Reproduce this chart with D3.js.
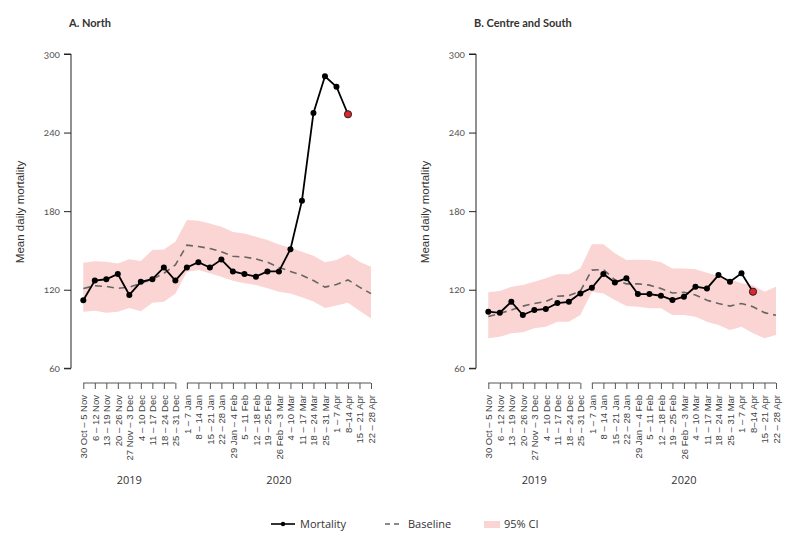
<!DOCTYPE html>
<html>
<head>
<meta charset="utf-8">
<script src="https://cdn.jsdelivr.net/npm/d3@7"></script>
<style>
  body { margin: 0; background: #fff; }
  svg { display: block; font-family: "Open Sans", "DejaVu Sans", sans-serif; }
  .panel-title { font-weight: 700; font-size: 11px; fill: #333; font-family: Lato, "Open Sans", sans-serif; }
  .y-axis text { font-size: 10px; fill: #555; font-family: Lato, "Open Sans", sans-serif; font-variant-numeric: oldstyle-nums; }
  .x-axis text { font-size: 9.5px; fill: #444; }
  .axis-title { font-size: 11.5px; fill: #333; font-family: "Liberation Sans", Arial, sans-serif; }
  .year { font-size: 11px; fill: #333; }
  .legend text { font-size: 11px; fill: #333; }
</style>
</head>
<body>
<div class="chart"></div>
<script>
// week labels (x categories)
var weeks2019 = [
  "30 Oct \u2013 5 Nov", "6 \u2013 12 Nov", "13 \u2013 19 Nov", "20 \u2013 26 Nov",
  "27 Nov \u2013 3 Dec", "4 \u2013 10 Dec", "11 \u2013 17 Dec", "18 \u2013 24 Dec",
  "25 \u2013 31 Dec"
];
var weeks2020 = [
  "1 \u2013 7 Jan", "8 \u2013 14 Jan", "15 \u2013 21 Jan", "22 \u2013 28 Jan",
  "29 Jan \u2013 4 Feb", "5 \u2013 11 Feb", "12 \u2013 18 Feb", "19 \u2013 25 Feb",
  "26 Feb \u2013 3 Mar", "4 \u2013 10 Mar", "11 \u2013 17 Mar", "18 \u2013 24 Mar",
  "25 \u2013 31 Mar", "1 \u2013 7 Apr", "8\u201314 Apr", "15 \u2013 21 Apr",
  "22 \u2013 28 Apr"
];
var weeks = weeks2019.concat(weeks2020);
var yTicks = [60, 120, 180, 240, 300];

// A. North
var northMortality = [112, 127, 128, 132, 116, 126, 128, 137, 127, 137, 141, 137, 143,
  134, 132, 130, 134, 134, 151, 188, 255, 283, 275, 254];
var northBaseline = [121, 123, 122.5, 121, 122, 125, 128, 132.5, 139, 154, 153, 151.5, 149,
  145.5, 145, 143.5, 141, 137, 134, 131, 127, 122, 124, 127.5, 122, 117];
var northUpper = [140.6, 141.7, 141.4, 140.1, 143.2, 141.9, 150.3, 150.8, 156.6, 173.2, 172.6,
  170.6, 168, 164, 163, 160.4, 158, 154.5, 152, 149, 146, 141, 142.7, 147, 141.4, 137.6];
var northLower = [103.2, 104, 102.4, 103.2, 106, 103.5, 110, 110.9, 117, 133.8, 135, 132.5,
  129.9, 126.9, 125, 123.6, 121.1, 118.5, 117.2, 114.2, 111, 106, 108, 110, 104, 98];

// B. Centre and South
var southMortality = [103.2, 102.4, 110.8, 100.7, 104.5, 105.3, 109.8, 110.8, 117.2, 121.5,
  132, 125.6, 128.7, 116.7, 116.7, 115.4, 112.1, 114.7, 122.3, 121, 131.2, 126.1, 132.5, 118.5];
var southBaseline = [99.5, 102, 104.5, 107.5, 109.5, 111, 115, 115.5, 119, 135, 135.5, 127.5,
  124.5, 124.5, 123.5, 121, 117.5, 118, 116, 112, 109.5, 107.5, 109.5, 107, 102.5, 100.5];
var southUpper = [118, 119, 122.3, 123.6, 126.1, 128.7, 131.8, 131.8, 136.3, 154.7, 154.7,
  147.8, 142.7, 142.9, 142.7, 141, 136.3, 136.3, 135.7, 133, 130.5, 128, 125, 123.5, 118.5, 122.3];
var southLower = [82.9, 84.1, 86.7, 87.5, 90.5, 91.8, 95.6, 95.6, 100.7, 118.5, 117.2, 112.1,
  107.5, 107, 105.8, 105.8, 100.7, 100.7, 99.4, 95.6, 93, 89.2, 91.8, 86.7, 82.9, 85.4];

var panels = [
  {title: "A. North", left: 71, mortality: northMortality, baseline: northBaseline, upper: northUpper, lower: northLower},
  {title: "B. Centre and South", left: 476, mortality: southMortality, baseline: southBaseline, upper: southUpper, lower: southLower}
];

var W = 798, H = 542;
var axisY = 383;

var svg = d3.select(".chart").append("svg")
  .attr("width", W)
  .attr("height", H);

var y = d3.scaleLinear().domain([60, 300]).range([368.3, 54]);
var x = d3.scalePoint().domain(weeks).range([12.3, 300]);

panels.forEach(function(p) {
  var g = svg.append("g").attr("transform", "translate(" + p.left + ",0)");

  // title
  g.append("text")
    .attr("class", "panel-title")
    .attr("x", -2)
    .attr("y", 27)
    .text(p.title);

  // y axis
  var yAxis = g.append("g")
    .attr("class", "y-axis")
    .call(d3.axisLeft(y).tickValues(yTicks).tickSize(7).tickPadding(4));
  yAxis.select(".domain").attr("stroke", "#222").attr("d", "M-7," + y(300) + "H0V" + y(60) + "H-7");
  yAxis.selectAll("line").attr("stroke", "#222");

  g.append("text")
    .attr("class", "axis-title")
    .attr("transform", "rotate(-90)")
    .attr("x", -212)
    .attr("y", -47)
    .attr("text-anchor", "middle")
    .text("Mean daily mortality");

  // 95% CI band
  var area = d3.area()
    .x(function(d, i) { return x(weeks[i]); })
    .y0(function(d, i) { return y(p.lower[i]); })
    .y1(function(d, i) { return y(p.upper[i]); });
  g.append("path")
    .datum(p.upper)
    .attr("d", area)
    .attr("fill", "#fbd4d4");

  // baseline
  var line = d3.line()
    .x(function(d, i) { return x(weeks[i]); })
    .y(function(d) { return y(d); });
  g.append("path")
    .datum(p.baseline)
    .attr("d", line)
    .attr("fill", "none")
    .attr("stroke", "#666")
    .attr("stroke-width", 1.6)
    .attr("stroke-dasharray", "7,5");

  // mortality
  g.append("path")
    .datum(p.mortality)
    .attr("d", line)
    .attr("fill", "none")
    .attr("stroke", "#000")
    .attr("stroke-width", 1.8);

  var last = p.mortality.length - 1;
  g.selectAll(".dot")
    .data(p.mortality)
    .enter()
    .append("circle")
    .attr("cx", function(d, i) { return x(weeks[i]); })
    .attr("cy", function(d) { return y(d); })
    .attr("r", function(d, i) { return i == last ? 3.6 : 3; })
    .attr("fill", function(d, i) { return i == last ? "#e0262b" : "#000"; })
    .attr("stroke", "#222")
    .attr("stroke-width", function(d, i) { return i == last ? 1 : 0; });

  // x axis, one piece per year
  [weeks2019, weeks2020].forEach(function(group) {
    var xa = g.append("g")
      .attr("class", "x-axis")
      .attr("transform", "translate(0," + axisY + ")")
      .call(d3.axisBottom(x).tickValues(group).tickSize(6));
    xa.select(".domain")
      .attr("d", "M" + x(group[0]) + ",0H" + x(group[group.length - 1]))
      .attr("stroke", "#555");
    xa.selectAll("line").attr("stroke", "#555");
    xa.selectAll("text")
      .attr("transform", "rotate(-90)")
      .attr("text-anchor", "end")
      .attr("x", -12)
      .attr("y", 0)
      .attr("dy", "0.35em");

    g.append("text")
      .attr("class", "year")
      .attr("x", (x(group[0]) + x(group[group.length - 1])) / 2)
      .attr("y", 484)
      .attr("text-anchor", "middle")
      .text(group == weeks2019 ? "2019" : "2020");
  });
});

// legend
var legend = svg.append("g").attr("class", "legend");
legend.append("line")
  .attr("x1", 271).attr("x2", 295).attr("y1", 524).attr("y2", 524)
  .attr("stroke", "#000").attr("stroke-width", 1.6);
legend.append("circle")
  .attr("cx", 283).attr("cy", 524).attr("r", 2.2).attr("fill", "#000");
legend.append("text").attr("x", 300).attr("y", 528).text("Mortality");

legend.append("line")
  .attr("x1", 385).attr("x2", 399).attr("y1", 524).attr("y2", 524)
  .attr("stroke", "#666").attr("stroke-width", 1.4)
  .attr("stroke-dasharray", "5,4");
legend.append("text").attr("x", 408).attr("y", 528).text("Baseline");

legend.append("rect")
  .attr("x", 484).attr("y", 521).attr("width", 16).attr("height", 7)
  .attr("fill", "#fbd4d4");
legend.append("text").attr("x", 504).attr("y", 528).text("95% CI");
</script>
</body>
</html>
